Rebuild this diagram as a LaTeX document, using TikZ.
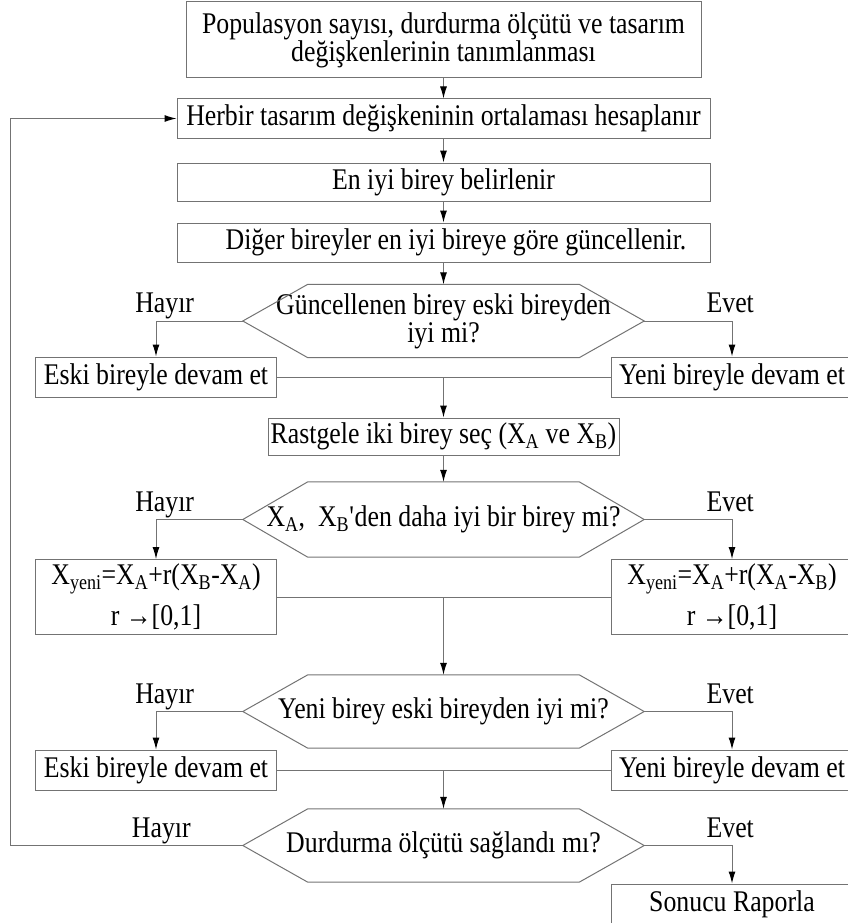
\documentclass[tikz,border=0pt]{standalone}
\usepackage{fontspec}
\setmainfont{Liberation Serif}[FakeStretch=0.86]
\usetikzlibrary{arrows.meta}
\newcommand\tip{65}
\newcommand\hexout[1]{\draw[ln](#1.west)--([xshift=\tip]#1.north west)--([xshift=-\tip]#1.north east)--(#1.east)--([xshift=-\tip]#1.south east)--([xshift=\tip]#1.south west)--cycle;}
\begin{document}
\begin{tikzpicture}[x=1pt,y=-1pt,font=\fontsize{30}{28}\selectfont,
ln/.style={draw=black!55,line width=1pt},
arr/.style={ln,-{Latex[length=12pt,width=7pt,color=black]}},
box/.style={ln,rectangle,inner sep=0pt,minimum height=39pt,align=center},
side/.style={box,minimum width=241pt,minimum height=40pt},
hexa/.style={minimum width=401pt,minimum height=73pt,inner sep=0pt,align=center},
lbl/.style={above,inner sep=2pt,text height=20pt,text depth=6pt}]
\useasboundingbox(0,0)rectangle(847,923);
\node[box,minimum width=515pt,minimum height=76pt](b1) at (443.5,40){Populasyon sayısı, durdurma ölçütü ve tasarım\\değişkenlerinin tanımlanması};
\node[box,minimum width=533pt](b2) at (443.5,118.5){Herbir tasarım değişkeninin ortalaması hesaplanır};
\node[box,minimum width=533pt,minimum height=38pt](b3) at (443.5,182){En iyi birey belirlenir};
\node[box,minimum width=533pt](b4) at (443.5,242.5){\hspace{25pt}Diğer bireyler en iyi bireye göre güncellenir.};
\node[hexa](d1) at (443.5,321){Güncellenen birey eski bireyden\\iyi mi?};
\hexout{d1}
\node[side](e1) at (156,377){Eski bireyle devam et};
\node[side](y1) at (732,377){Yeni bireyle devam et};
\node[box,minimum width=351pt,minimum height=37pt](r1) at (443.5,436.5){Rastgele iki birey seç (X\textsubscript{A} ve X\textsubscript{B})};
\node[hexa,minimum height=75pt](d2) at (443.5,519.5){X\textsubscript{A},\ \ X\textsubscript{B}\textquotesingle den daha iyi bir birey mi?};
\hexout{d2}
\node[side,minimum height=75pt](x1) at (156,597){X\textsubscript{yeni}=X\textsubscript{A}+r(X\textsubscript{B}-X\textsubscript{A})\\[10pt]r →[0,1]};
\node[side,minimum height=75pt](x2) at (732,597){X\textsubscript{yeni}=X\textsubscript{A}+r(X\textsubscript{A}-X\textsubscript{B})\\[10pt]r →[0,1]};
\node[hexa](d3) at (443.5,711.5){Yeni birey eski bireyden iyi mi?};
\hexout{d3}
\node[side](e2) at (156,770){Eski bireyle devam et};
\node[side](y2) at (732,770){Yeni bireyle devam et};
\node[hexa](d4) at (443.5,845.5){Durdurma ölçütü sağlandı mı?};
\hexout{d4}
\node[side](s1) at (732,904){Sonucu Raporla};
\coordinate(fb) at (10,845.5);
\draw[arr](b1.south)--(b2.north);
\draw[arr](b2.south)--(b3.north);
\draw[arr](b3.south)--(b4.north);
\draw[arr](b4.south)--(d1.north);
\draw[arr](d1.west)-|node[lbl,pos=0.45](h1){Hayır}(e1.north);
\draw[arr](d1.east)-|node[lbl,pos=0.49](v1){Evet}(y1.north);
\draw[ln](e1.east)--(y1.west);
\draw[arr](r1.north|-e1.east)--(r1.north);
\draw[arr](r1.south)--(d2.north);
\draw[arr](d2.west)-|node[lbl,pos=0.45](h2){Hayır}(x1.north);
\draw[arr](d2.east)-|node[lbl,pos=0.49](v2){Evet}(x2.north);
\draw[ln](x1.east)--(x2.west);
\draw[arr](d3.north|-x1.east)--(d3.north);
\draw[arr](d3.west)-|node[lbl,pos=0.45](h3){Hayır}(e2.north);
\draw[arr](d3.east)-|node[lbl,pos=0.49](v3){Evet}(y2.north);
\draw[ln](e2.east)--(y2.west);
\draw[arr](d4.north|-e2.east)--(d4.north);
\draw[arr](d4.west)--node[lbl,pos=0.35](h4){Hayır}(fb)|-(b2.west);
\draw[arr](d4.east)-|node[lbl,pos=0.49](v4){Evet}(s1.north);
\end{tikzpicture}
\end{document}
